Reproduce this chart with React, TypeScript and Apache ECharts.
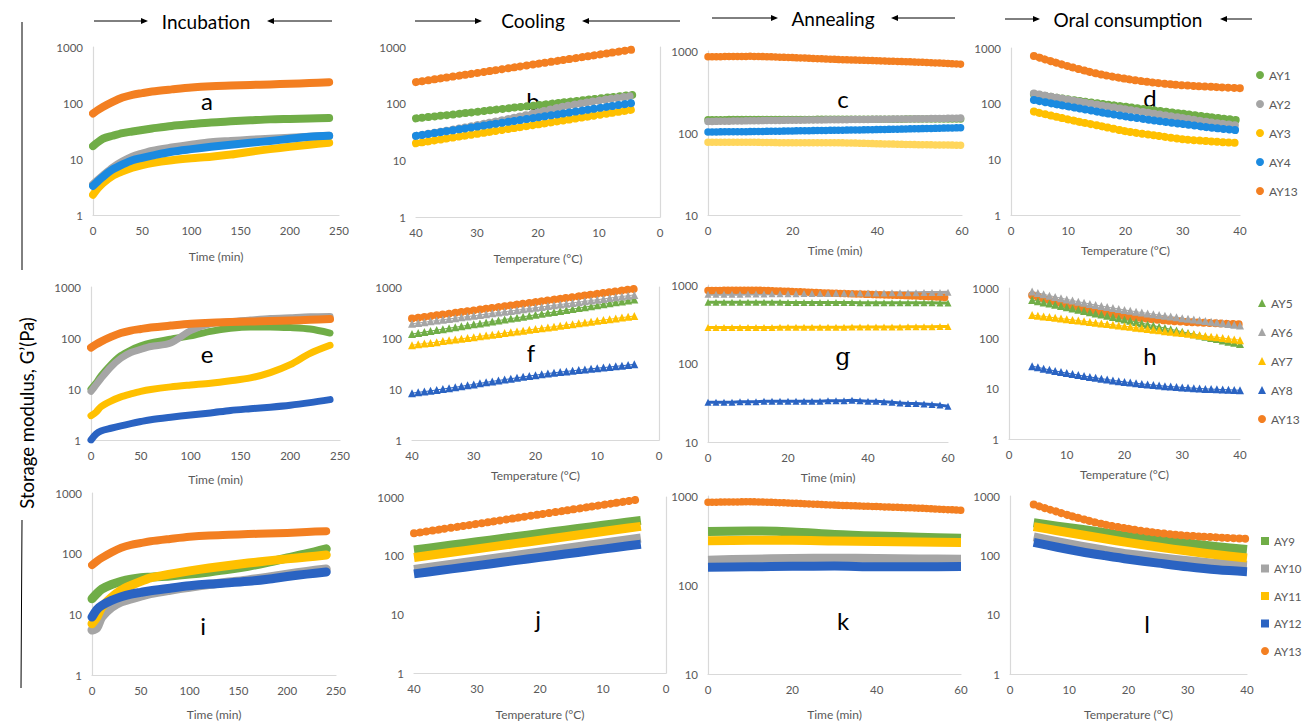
import React, { useEffect, useRef } from 'react';
import * as echarts from 'echarts';

// ---------- DATA ----------
// Incubation (time, min) – dense markers rendered as thick bands
const incTime = [0, 5, 10, 20, 30, 40, 50, 60, 80, 100, 120, 140, 160, 180, 200, 220, 240];
const incAY13 = [65, 75, 85, 105, 125, 140, 150, 160, 175, 190, 200, 205, 210, 215, 220, 228, 235];
const incAY1 = [17, 20, 23, 26, 29, 31, 33, 35, 39, 42, 45, 47, 49, 51, 52, 53, 54];
const incAY2 = [3.5, 4.2, 5, 7, 9, 11, 12.5, 14, 16, 18, 20, 21, 22, 23, 24, 25, 26];
const incAY3 = [2.3, 3, 3.7, 5, 6, 7, 7.8, 8.5, 9.5, 10.3, 11, 12, 13.5, 15, 16.5, 18, 19.5];
const incAY4 = [3.3, 4, 4.8, 6.5, 8, 9.5, 10.5, 11.5, 13.5, 15, 16.5, 18, 19.5, 21, 23, 25, 26];
const incAY5 = [10, 13, 18, 30, 45, 58, 70, 80, 95, 110, 135, 155, 165, 165, 160, 150, 125];
const incAY6 = [9, 12, 16, 27, 40, 52, 60, 68, 80, 140, 190, 210, 225, 240, 250, 260, 265];
const incAY7 = [3, 3.5, 4.5, 5.8, 7, 8, 9, 9.8, 11, 12, 13, 14.5, 16.5, 21, 30, 50, 72];
const incAY8 = [1, 1.3, 1.5, 1.7, 1.9, 2.1, 2.3, 2.5, 2.8, 3.1, 3.4, 3.8, 4.1, 4.4, 4.8, 5.4, 6.2];
const incAY9 = [18, 22, 26, 31, 35, 38, 40, 41, 43, 46, 50, 55, 62, 72, 85, 100, 120];
const incAY10 = [5.5, 6, 9, 13, 16, 18, 20, 22, 25, 28, 31, 34, 37, 41, 46, 51, 56];
const incAY11 = [7, 9, 13, 19, 25, 30, 35, 40, 46, 52, 58, 64, 70, 76, 82, 88, 95];
const incAY12 = [9, 12, 14, 17, 19.5, 21.5, 23, 24.5, 27, 29.5, 31.5, 33, 35, 38, 42, 46, 50];

// Cooling (temperature, °C)
const coolKeyT = [40, 36, 32, 28, 24, 20, 16, 12, 8, 4];
const coolAY13 = [240, 279, 323, 375, 436, 506, 587, 682, 792, 920];
const coolAY1 = [55, 61, 68, 76, 85, 94, 105, 117, 130, 145];
const coolAY2 = [27, 32, 38, 46, 56, 70, 88, 105, 122, 140];
const coolAY3 = [20, 23.3, 27.2, 31.7, 37, 43.1, 50.3, 58.7, 68.5, 80];
const coolAY4 = [27, 31.4, 36.5, 42.5, 49.4, 57.4, 66.8, 77.7, 90.3, 105];
const coolAY9 = [125, 142, 162, 184, 210, 239, 272, 309, 352, 400];
const coolAY10 = [58, 66.6, 76.4, 87.6, 100.5, 115.4, 132.4, 151.9, 174.3, 200];
const coolAY11 = [93, 106.5, 122, 139.8, 160.2, 183.5, 210.2, 240.8, 275.9, 316];
const coolAY12 = [49, 55.8, 63.5, 72.2, 82.2, 93.5, 106.5, 121.2, 137.9, 157];
const coolT = [40, 39, 38, 37, 36, 35, 34, 33, 32, 31, 30, 29, 28, 27, 26, 25, 24, 23, 22, 21, 20, 19, 18, 17, 16, 15, 14, 13, 12, 11, 10, 9, 8, 7, 6, 5, 4];
const coolAY5 = [120, 125, 131, 137, 143, 149, 156, 162, 170, 177, 185, 193, 202, 211, 220, 230, 240, 250, 261, 273, 285, 298, 311, 324, 339, 354, 369, 386, 403, 421, 439, 459, 479, 500, 522, 545, 569];
const coolAY6 = [190, 197, 204, 212, 220, 228, 236, 245, 254, 263, 273, 283, 293, 304, 316, 327, 339, 352, 365, 378, 392, 407, 422, 437, 453, 470, 487, 505, 524, 543, 563, 584, 606, 628, 651, 675, 700];
const coolAY7 = [72, 75, 78, 80, 83, 87, 90, 93, 97, 100, 104, 108, 112, 116, 120, 125, 130, 134, 139, 145, 150, 156, 161, 167, 174, 180, 187, 194, 201, 209, 217, 225, 233, 242, 251, 260, 270];
const coolAY8 = [8.3, 8.6, 8.9, 9.2, 9.6, 10, 10.4, 10.8, 11.3, 11.8, 12.3, 12.9, 13.5, 14.1, 14.7, 15.3, 15.9, 16.6, 17.3, 18, 18.7, 19.4, 20.1, 20.8, 21.5, 22.1, 22.8, 23.5, 24.2, 24.9, 25.6, 26.3, 27, 27.8, 28.6, 29.5, 30.5];

// Annealing (time, min)
const annKeyT = [0, 10, 20, 30, 40, 50, 60];
const annAY13 = [850, 860, 830, 790, 760, 730, 690];
const annAY1 = [145, 146, 146, 147, 147, 148, 148];
const annAY2 = [138, 141, 143, 145, 147, 149, 152];
const annAY3 = [77, 77, 76, 76, 74, 72, 71];
const annAY4 = [103, 104, 106, 108, 110, 113, 116];
const annAY9 = [400, 405, 395, 370, 355, 345, 335];
const annAY10 = [190, 195, 198, 200, 198, 196, 195];
const annAY11 = [315, 318, 318, 312, 308, 304, 300];
const annAY12 = [158, 160, 162, 163, 160, 160, 161];
const annT = [0, 2, 4, 6, 8, 10, 12, 14, 16, 18, 20, 22, 24, 26, 28, 30, 32, 34, 36, 38, 40, 42, 44, 46, 48, 50, 52, 54, 56, 58, 60];
const annAY5 = [605, 605, 604, 604, 603, 603, 602, 602, 601, 601, 600, 600, 600, 599, 599, 598, 598, 597, 597, 596, 596, 595, 595, 594, 594, 593, 593, 592, 592, 591, 590];
const annAY6 = [760, 760, 762, 764, 765, 766, 768, 770, 771, 772, 774, 776, 777, 778, 780, 782, 783, 784, 786, 788, 789, 790, 792, 794, 795, 796, 798, 800, 802, 805, 810];
const annAY7 = [288, 288, 287, 287, 287, 288, 288, 288, 288, 289, 289, 289, 289, 290, 290, 290, 290, 290, 291, 291, 291, 291, 292, 292, 292, 293, 293, 294, 294, 295, 295];
const annAY8 = [32, 32, 32, 32, 32.5, 32.5, 32.5, 33, 33, 33, 33, 33, 33, 33, 33, 33.5, 33.5, 33.5, 34, 33.5, 33, 33, 32.5, 32, 31.5, 31, 31, 30.5, 30, 29.5, 28.5];

// Oral consumption (temperature, °C)
const oralKeyT13 = [4, 6, 8, 10, 13, 16, 20, 24, 28, 32, 36, 40];
const oralAY13 = [720, 620, 540, 470, 390, 330, 280, 245, 222, 208, 198, 190];
const oralKeyT = [4, 8, 12, 16, 20, 25, 30, 35, 40];
const oralAY1 = [148, 128, 112, 99, 88, 76, 66, 57, 50];
const oralAY2 = [152, 128, 108, 92, 79, 66, 55, 46, 40];
const oralAY3 = [72, 58, 47, 39, 32, 27, 23, 21, 19.5];
const oralAY4 = [116, 97, 82, 69, 59, 50, 43, 37, 33];
const oralAY9 = [355, 310, 275, 240, 210, 182, 160, 140, 125];
const oralAY10 = [205, 170, 143, 122, 105, 92, 81, 73, 68];
const oralAY11 = [305, 260, 222, 190, 164, 138, 118, 102, 90];
const oralAY12 = [165, 137, 115, 99, 86, 74, 64, 57, 53];
const oralT = [4, 5, 6, 7, 8, 9, 10, 11, 12, 13, 14, 15, 16, 17, 18, 19, 20, 21, 22, 23, 24, 25, 26, 27, 28, 29, 30, 31, 32, 33, 34, 35, 36, 37, 38, 39, 40];
const oralAY5 = [580, 548, 518, 490, 464, 438, 414, 392, 370, 350, 331, 313, 296, 280, 265, 250, 237, 224, 212, 200, 189, 179, 169, 160, 151, 143, 135, 128, 121, 114, 108, 102, 97, 91, 86, 82, 77];
const oralAY6 = [850, 800, 750, 705, 665, 628, 594, 563, 534, 507, 482, 459, 438, 418, 400, 383, 367, 352, 338, 325, 313, 301, 290, 280, 270, 261, 252, 244, 236, 228, 221, 214, 207, 200, 193, 186, 180];
const oralAY7 = [290, 281, 272, 264, 255, 247, 240, 232, 225, 218, 211, 204, 198, 192, 186, 180, 174, 169, 163, 158, 153, 148, 144, 139, 135, 131, 127, 123, 119, 115, 111, 108, 105, 101, 98, 95, 92];
const oralAY8 = [28, 26.5, 25, 23.7, 22.5, 21.4, 20.4, 19.5, 18.6, 17.8, 17.1, 16.4, 15.8, 15.2, 14.6, 14.1, 13.6, 13.2, 12.8, 12.4, 12.1, 11.8, 11.5, 11.2, 11, 10.8, 10.6, 10.4, 10.2, 10.1, 9.9, 9.8, 9.7, 9.6, 9.5, 9.4, 9.3];

const stageTitles = ['Incubation', 'Cooling', 'Annealing', 'Oral consumption'];
const panelLetters = ['a', 'b', 'c', 'd', 'e', 'f', 'g', 'h', 'i', 'j', 'k', 'l'];
const legendRow1 = ['AY1', 'AY2', 'AY3', 'AY4', 'AY13'];
const legendRow2 = ['AY5', 'AY6', 'AY7', 'AY8', 'AY13'];
const legendRow3 = ['AY9', 'AY10', 'AY11', 'AY12', 'AY13'];
const yTitle = 'Storage modulus, G’(Pa)';

// ---------- STYLE / LAYOUT ----------
const C = {
  green: '#70AD47',
  grey: '#A5A5A5',
  yellow: '#FFC000',
  paleYellow: '#FFD65C',
  blue1: '#1B8AE0',
  blue2: '#2A63C2',
  orange: '#F37F21',
};
const FONT = 'Lato, "Open Sans", sans-serif';
const AX = '#595959';

// [left, top, width, height, xmin, xmax, interval, inverse, ymin, xname, nameGap]
const panels: any[] = [
  [93, 47, 246, 168, 0, 250, 50, false, 1, 'Time (min)', 35],
  [416, 47, 244, 170, 0, 40, 10, true, 1, 'Temperature (°C)', 35],
  [708, 51, 254, 164, 0, 60, 20, false, 10, 'Time (min)', 29],
  [1011, 48, 229, 167, 0, 40, 10, false, 1, 'Temperature (°C)', 29],
  [91, 287, 249, 153, 0, 250, 50, false, 1, 'Time (min)', 33],
  [412, 287, 247, 153, 0, 40, 10, true, 1, 'Temperature (°C)', 29],
  [708, 285, 240, 157, 0, 60, 20, false, 10, 'Time (min)', 29],
  [1009, 288, 231, 151, 0, 40, 10, false, 1, 'Temperature (°C)', 29],
  [92, 493, 244, 184, 0, 250, 50, false, 1, 'Time (min)', 33],
  [414, 497, 252, 180, 0, 40, 10, true, 1, 'Temperature (°C)', 35],
  [708, 496, 253, 180, 0, 60, 20, false, 10, 'Time (min)', 34],
  [1010, 496, 237, 180, 0, 40, 10, false, 1, 'Temperature (°C)', 34],
];
const letterPos = [
  [207, 100], [533, 100], [843, 98], [1150, 97],
  [207, 353], [531, 352], [843, 357], [1150, 355],
  [203, 625], [538, 618], [843, 620], [1147, 623],
];

const pairs = (xs: number[], ys: number[]) => xs.map((x, i) => [x, ys[i]]);

const base = (name: string, p: number) => ({
  type: 'line', name, xAxisIndex: p, yAxisIndex: p, silent: true, animation: false,
});
const thick = (name: string, p: number, xs: number[], ys: number[], color: string, w: number) => ({
  ...base(name, p), data: pairs(xs, ys), showSymbol: false, symbol: 'circle', smooth: 0.3,
  lineStyle: { color, width: w, cap: 'round', join: 'round' }, itemStyle: { color },
});
const band = (name: string, p: number, xs: number[], ys: number[], color: string, w: number) => ({
  ...base(name, p), data: pairs(xs, ys), showSymbol: false, symbol: 'rect', smooth: 0.3,
  lineStyle: { color, width: w, cap: 'butt', join: 'round' }, itemStyle: { color },
});
const dots = (name: string, p: number, xs: number[], ys: number[], color: string, w: number, gap: number) => ({
  ...base(name, p), data: pairs(xs, ys), showSymbol: false, symbol: 'circle', smooth: 0.3,
  lineStyle: { color, width: w, type: [0.01, gap], cap: 'round', join: 'round' }, itemStyle: { color },
});
const tri = (name: string, p: number, xs: number[], ys: number[], color: string, size: number, lw: number) => ({
  ...base(name, p), data: pairs(xs, ys), showSymbol: true, showAllSymbol: true, symbol: 'triangle', symbolSize: size,
  lineStyle: { color, width: lw }, itemStyle: { color },
});

const series: any[] = [
  // a
  thick('AY1', 0, incTime, incAY1, C.green, 8),
  thick('AY2', 0, incTime, incAY2, C.grey, 8),
  thick('AY3', 0, incTime, incAY3, C.yellow, 8),
  thick('AY4', 0, incTime, incAY4, C.blue1, 8),
  thick('AY13', 0, incTime, incAY13, C.orange, 8),
  // b
  dots('AY1', 1, coolKeyT, coolAY1, C.green, 8, 6.2),
  dots('AY2', 1, coolKeyT, coolAY2, C.grey, 8, 6.2),
  dots('AY3', 1, coolKeyT, coolAY3, C.yellow, 8, 6.2),
  dots('AY4', 1, coolKeyT, coolAY4, C.blue1, 8, 6.2),
  dots('AY13', 1, coolKeyT, coolAY13, C.orange, 8, 6.2),
  // c
  dots('AY1', 2, annKeyT, annAY1, C.green, 7.5, 4.2),
  dots('AY2', 2, annKeyT, annAY2, C.grey, 7.5, 4.2),
  dots('AY3', 2, annKeyT, annAY3, C.paleYellow, 7.5, 4.2),
  dots('AY4', 2, annKeyT, annAY4, C.blue1, 7.5, 4.2),
  dots('AY13', 2, annKeyT, annAY13, C.orange, 7.5, 4.2),
  // d
  dots('AY1', 3, oralKeyT, oralAY1, C.green, 8, 5.8),
  dots('AY2', 3, oralKeyT, oralAY2, C.grey, 8, 5.8),
  dots('AY3', 3, oralKeyT, oralAY3, C.yellow, 8, 5.8),
  dots('AY4', 3, oralKeyT, oralAY4, C.blue1, 8, 5.8),
  dots('AY13', 3, oralKeyT13, oralAY13, C.orange, 8, 5.8),
  // e
  thick('AY5', 4, incTime, incAY5, C.green, 7),
  thick('AY6', 4, incTime, incAY6, C.grey, 7),
  thick('AY7', 4, incTime, incAY7, C.yellow, 7),
  thick('AY8', 4, incTime, incAY8, C.blue2, 7),
  thick('AY13', 4, incTime, incAY13, C.orange, 8),
  // f
  tri('AY5', 5, coolT, coolAY5, C.green, 8, 1),
  tri('AY6', 5, coolT, coolAY6, C.grey, 8, 1),
  tri('AY7', 5, coolT, coolAY7, C.yellow, 8, 1),
  tri('AY8', 5, coolT, coolAY8, C.blue2, 8, 1),
  dots('AY13', 5, coolKeyT, coolAY13, C.orange, 8, 6.2),
  // g
  tri('AY5', 6, annT, annAY5, C.green, 7, 3),
  tri('AY6', 6, annT, annAY6, C.grey, 7, 3),
  tri('AY7', 6, annT, annAY7, C.yellow, 7, 3),
  tri('AY8', 6, annT, annAY8, C.blue2, 7, 3),
  dots('AY13', 6, annKeyT, annAY13, C.orange, 7.5, 4.0),
  // h
  tri('AY5', 7, oralT, oralAY5, C.green, 8, 1),
  tri('AY6', 7, oralT, oralAY6, C.grey, 8, 1),
  tri('AY7', 7, oralT, oralAY7, C.yellow, 8, 1),
  tri('AY8', 7, oralT, oralAY8, C.blue2, 8, 1),
  dots('AY13', 7, oralKeyT13, oralAY13, C.orange, 8, 5.8),
  // i
  thick('AY9', 8, incTime, incAY9, C.green, 9),
  thick('AY10', 8, incTime, incAY10, C.grey, 9),
  thick('AY11', 8, incTime, incAY11, C.yellow, 9),
  thick('AY12', 8, incTime, incAY12, C.blue2, 9),
  thick('AY13', 8, incTime, incAY13, C.orange, 8),
  // j
  band('AY9', 9, coolKeyT, coolAY9, C.green, 9),
  band('AY10', 9, coolKeyT, coolAY10, C.grey, 9),
  band('AY11', 9, coolKeyT, coolAY11, C.yellow, 9),
  band('AY12', 9, coolKeyT, coolAY12, C.blue2, 9),
  dots('AY13', 9, coolKeyT, coolAY13, C.orange, 8, 6.2),
  // k
  band('AY9', 10, annKeyT, annAY9, C.green, 9),
  band('AY10', 10, annKeyT, annAY10, C.grey, 9),
  band('AY11', 10, annKeyT, annAY11, C.yellow, 9),
  band('AY12', 10, annKeyT, annAY12, C.blue2, 9),
  dots('AY13', 10, annKeyT, annAY13, C.orange, 7.5, 4.2),
  // l
  band('AY9', 11, oralKeyT, oralAY9, C.green, 9),
  band('AY10', 11, oralKeyT, oralAY10, C.grey, 9),
  band('AY11', 11, oralKeyT, oralAY11, C.yellow, 9),
  band('AY12', 11, oralKeyT, oralAY12, C.blue2, 9),
  dots('AY13', 11, oralKeyT13, oralAY13, C.orange, 8, 5.8),
];

const legendCfg = (names: string[], icons: string[], left: number, top: number, gap: number, fs: number) => ({
  orient: 'vertical', left, top, padding: 0, itemWidth: 8, itemHeight: 8, itemGap: gap, selectedMode: false,
  data: names.map((n, i) => ({ name: n, icon: icons[i] })),
  textStyle: { color: AX, fontSize: fs, fontFamily: FONT },
});

const arrow = (x1: number, x2: number, y: number, dir: 'r' | 'l') => {
  const head = dir === 'r' ? x2 : x1;
  const pts = dir === 'r'
    ? [[head, y], [head - 7, y - 3], [head - 7, y + 3]]
    : [[head, y], [head + 7, y - 3], [head + 7, y + 3]];
  return [
    { type: 'line', shape: { x1: dir === 'r' ? x1 : x1 + 5, y1: y, x2: dir === 'r' ? x2 - 5 : x2, y2: y }, style: { stroke: '#000', lineWidth: 1 } },
    { type: 'polygon', shape: { points: pts }, style: { fill: '#000' } },
  ];
};

const headerPos = [[206, 21], [533, 20], [833, 18], [1128, 19]];

const graphic: any[] = [
  ...stageTitles.map((t, i) => ({
    type: 'text', x: headerPos[i][0], y: headerPos[i][1],
    style: { text: t, fill: '#000', font: `19px ${FONT}`, textAlign: 'center', textVerticalAlign: 'middle' },
  })),
  ...arrow(94, 148, 21, 'r'), ...arrow(267, 332, 21, 'l'),
  ...arrow(415, 482, 21, 'r'), ...arrow(582, 680, 21, 'l'),
  ...arrow(712, 778, 18, 'r'), ...arrow(891, 955, 18, 'l'),
  ...arrow(1005, 1040, 19, 'r'), ...arrow(1220, 1252, 19, 'l'),
  ...panelLetters.map((t, i) => ({
    type: 'text', x: letterPos[i][0], y: letterPos[i][1],
    style: {
      text: t, fill: '#000',
      font: t === 'g' ? '24px "DejaVu Serif", serif' : `24px ${FONT}`,
      textAlign: 'center', textVerticalAlign: 'middle',
    },
  })),
  {
    type: 'text', x: 27, y: 413, rotation: Math.PI / 2,
    style: { text: yTitle, fill: '#000', font: `18.5px ${FONT}`, textAlign: 'center', textVerticalAlign: 'middle' },
  },
  { type: 'line', shape: { x1: 22, y1: 22, x2: 22, y2: 270 }, style: { stroke: '#000', lineWidth: 1 } },
  { type: 'line', shape: { x1: 22, y1: 520, x2: 21, y2: 688 }, style: { stroke: '#000', lineWidth: 1 } },
];

const option: any = {
  animation: false,
  backgroundColor: '#ffffff',
  grid: panels.map((p) => ({ left: p[0], top: p[1], width: p[2], height: p[3], containLabel: false })),
  xAxis: panels.map((p, i) => ({
    gridIndex: i, type: 'value', min: p[4], max: p[5], interval: p[6], inverse: p[7],
    name: p[9], nameLocation: 'middle', nameGap: p[10],
    nameTextStyle: { color: AX, fontSize: 12, fontFamily: FONT },
    axisLine: { show: true, onZero: false, lineStyle: { color: '#D9D9D9', width: 1.2 } },
    axisTick: { show: false }, splitLine: { show: false },
    axisLabel: { color: AX, fontSize: 11.5, fontFamily: FONT, margin: 9 },
  })),
  yAxis: panels.map((p, i) => ({
    gridIndex: i, type: 'log', logBase: 10, min: p[8], max: 1000,
    axisLine: { show: true, lineStyle: { color: '#D9D9D9', width: 1.2 } },
    axisTick: { show: false }, splitLine: { show: false },
    axisLabel: { color: AX, fontSize: 11.5, fontFamily: FONT, margin: 10, formatter: (v: number) => String(Math.round(v)) },
  })),
  legend: [
    legendCfg(legendRow1, ['circle', 'circle', 'circle', 'circle', 'circle'], 1256, 69, 17, 12),
    legendCfg(legendRow2, ['triangle', 'triangle', 'triangle', 'triangle', 'circle'], 1258, 297, 17, 12),
    legendCfg(legendRow3, ['rect', 'rect', 'rect', 'rect', 'circle'], 1261, 535, 15.5, 11.5),
  ],
  graphic,
  series,
};

export default function App() {
  const ref = useRef<HTMLDivElement>(null);
  useEffect(() => {
    const chart = echarts.init(ref.current as HTMLDivElement, null, { renderer: 'svg' });
    chart.setOption(option);
    return () => chart.dispose();
  }, []);
  return (
    <div
      ref={ref}
      style={{ position: 'fixed', left: 0, top: 0, width: 1303, height: 721, background: '#fff' }}
    />
  );
}
